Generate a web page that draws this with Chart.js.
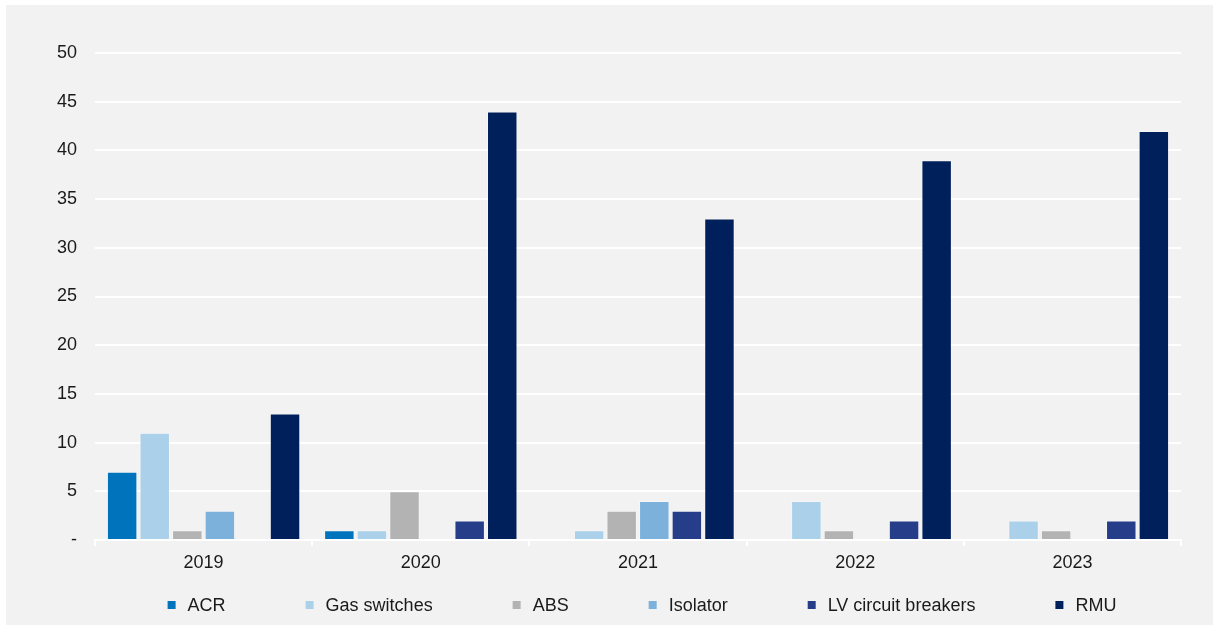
<!DOCTYPE html>
<html>
<head>
<meta charset="utf-8">
<title>Switchgear failures by type</title>
<script src="https://cdn.jsdelivr.net/npm/chart.js@4.4.1/dist/chart.umd.min.js"></script>
<style>
  html, body { margin: 0; padding: 0; background: #ffffff; }
  #panel {
    position: absolute;
    left: 6px; top: 5px;
    width: 1207px; height: 620px;
    background: #f2f2f2;
  }
</style>
</head>
<body>
<div id="panel"><canvas id="failures-chart"></canvas></div>
<script>
// Years on the x axis
const years = ['2019', '2020', '2021', '2022', '2023'];

// Counts per equipment type
const acr = [7, 1, 0, 0, 0];
const gasSwitches = [11, 1, 1, 4, 2];
const abs = [1, 5, 3, 1, 1];
const isolator = [3, 0, 4, 0, 0];
const lvBreakers = [0, 2, 3, 2, 2];
const rmu = [13, 44, 33, 39, 42];

// Y axis range
const yMin = 0;
const yMax = 50;
const yStep = 5;

const FONT = '"Liberation Sans", Arial, sans-serif';
const FONT_SIZE = 18;
const TEXT = '#1a1a1a';

// Legend drawn in one row under the axis, spaced like the office chart it came from
const legendRow = {
    id: 'legendRow',
    afterDraw(chart) {
        const { ctx, chartArea } = chart;
        const box = 8, textGap = 12, itemGap = 80;
        ctx.save();
        ctx.font = FONT_SIZE + 'px ' + FONT;
        const items = chart.data.datasets.map(ds => ({
            label: ds.label,
            color: ds.backgroundColor,
            w: box + textGap + ctx.measureText(ds.label).width
        }));
        const total = items.reduce((a, it) => a + it.w, 0) + itemGap * (items.length - 1);
        let x = (chartArea.left + chartArea.right) / 2 - total / 2 + 4;
        const y = chart.height - 20;
        ctx.textBaseline = 'middle';
        items.forEach(it => {
            ctx.fillStyle = it.color;
            ctx.fillRect(x, y - box / 2, box, box);
            ctx.fillStyle = TEXT;
            ctx.fillText(it.label, x + box + textGap, y + 1);
            x += it.w + itemGap;
        });
        ctx.restore();
    }
};

function series(label, data, color) {
    return {
        label,
        data,
        backgroundColor: color,
        borderColor: 'rgba(255, 255, 255, 0.35)',
        borderWidth: 1,
        categoryPercentage: 0.9,
        barPercentage: 0.935
    };
}

Chart.defaults.font.family = FONT;
Chart.defaults.font.size = FONT_SIZE;
Chart.defaults.color = TEXT;

new Chart(document.getElementById('failures-chart'), {
    type: 'bar',
    data: {
        labels: years,
        datasets: [
            series('ACR', acr, '#0073bd'),
            series('Gas switches', gasSwitches, '#abd1ea'),
            series('ABS', abs, '#b3b3b3'),
            series('Isolator', isolator, '#7bb1db'),
            series('LV circuit breakers', lvBreakers, '#263d8a'),
            series('RMU', rmu, '#00205b')
        ]
    },
    options: {
        responsive: true,
        maintainAspectRatio: false,
        animation: false,
        layout: { padding: { top: 48, right: 32, left: 0, bottom: 0 } },
        plugins: {
            legend: { display: false },
            tooltip: { enabled: false }
        },
        scales: {
            x: {
                afterFit: s => { s.height = 85; },
                grid: {
                    display: true,
                    drawOnChartArea: false,
                    color: '#ffffff',
                    lineWidth: 2,
                    tickLength: 6
                },
                border: { display: true, color: '#ffffff', width: 2 },
                ticks: { padding: 6, color: TEXT }
            },
            y: {
                min: yMin,
                max: yMax,
                afterFit: s => { s.width = 89; },
                grid: { color: '#ffffff', lineWidth: 2, drawTicks: false },
                border: { display: false },
                ticks: {
                    stepSize: yStep,
                    padding: 18,
                    color: TEXT,
                    callback: v => (v === 0 ? '-' : v)
                }
            }
        }
    },
    plugins: [legendRow]
});
</script>
</body>
</html>
